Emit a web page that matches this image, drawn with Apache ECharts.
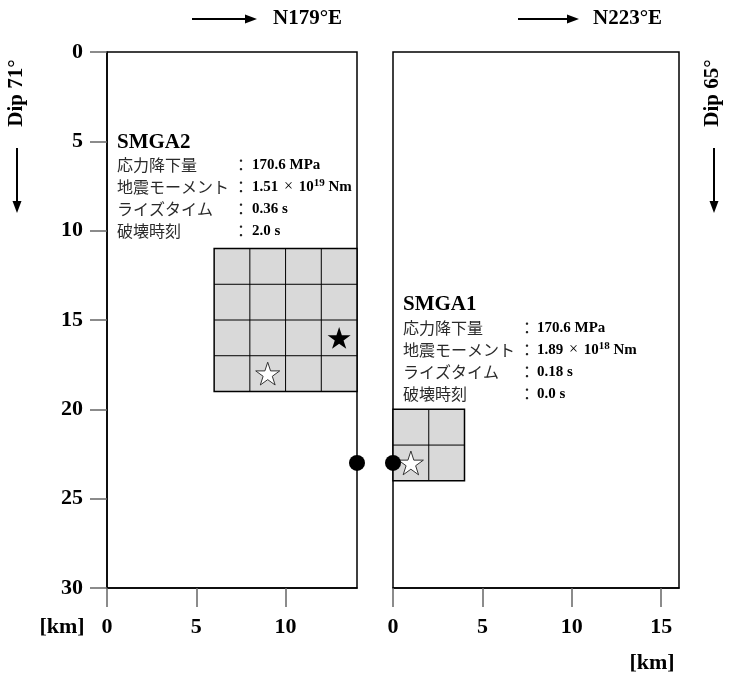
<!DOCTYPE html>
<html>
<head>
<meta charset="utf-8">
<script src="https://cdn.jsdelivr.net/npm/echarts@6/dist/echarts.min.js"></script>
<style>html,body{margin:0;padding:0;background:#fff;}#c{width:730px;height:680px;}</style>
</head>
<body>
<div id="c"></div>
<script>
// ---- data ----
const depthTicks = [0, 5, 10, 15, 20, 25, 30];
const leftStrikeTicks = [0, 5, 10];
const rightStrikeTicks = [0, 5, 10, 15];
const leftStrikeMax = 14;
const rightStrikeMax = 16;
const depthMax = 30;
// [xStart, yStart, xEnd, yEnd, columns, rows]
const smga2Area = [[6, 11, 14, 19, 4, 4]];
const smga1Area = [[0, 20, 4, 24, 2, 2]];
const smga2BlackStar = [[13, 16]];
const smga2WhiteStar = [[9, 18]];
const smga1WhiteStar = [[1, 23]];
const hingeLeft = [[14, 23]];
const hingeRight = [[0, 23]];
const paramLabels = ['応力降下量', '地震モーメント', 'ライズタイム', '破壊時刻'];
const smga2Values = ['{v|170.6 MPa}', '{v|1.51 }{x|×}{v| 10}{s|19}{v| Nm}', '{v|0.36 s}', '{v|2.0 s}'];
const smga1Values = ['{v|170.6 MPa}', '{v|1.89 }{x|×}{v| 10}{s|18}{v| Nm}', '{v|0.18 s}', '{v|0.0 s}'];

const SERIF = '"Liberation Serif", "DejaVu Serif", serif';
const JP = '"Noto Sans CJK JP", sans-serif';
const STAR = 'path://M50,0 L61.23,34.55 L97.55,34.55 L68.16,55.9 L79.39,90.45 L50,69.1 L20.61,90.45 L31.84,55.9 L2.45,34.55 L38.77,34.55 Z';

const chart = echarts.init(document.getElementById('c'), null, {renderer: 'canvas'});

function cellRender(params, api) {
  const x0 = api.value(0), y0 = api.value(1), x1 = api.value(2), y1 = api.value(3);
  const nx = api.value(4), ny = api.value(5);
  const p0 = api.coord([x0, y0]);
  const p1 = api.coord([x1, y1]);
  const left = Math.min(p0[0], p1[0]), right = Math.max(p0[0], p1[0]);
  const top = Math.min(p0[1], p1[1]), bottom = Math.max(p0[1], p1[1]);
  const children = [{
    type: 'rect',
    shape: {x: left, y: top, width: right - left, height: bottom - top},
    style: {fill: '#d9d9d9', stroke: '#000', lineWidth: 1.5}
  }];
  for (let i = 1; i < nx; i++) {
    const xx = left + (right - left) * i / nx;
    children.push({type: 'line', shape: {x1: xx, y1: top, x2: xx, y2: bottom}, style: {stroke: '#000', lineWidth: 1}});
  }
  for (let j = 1; j < ny; j++) {
    const yy = top + (bottom - top) * j / ny;
    children.push({type: 'line', shape: {x1: left, y1: yy, x2: right, y2: yy}, style: {stroke: '#000', lineWidth: 1}});
  }
  return {type: 'group', children: children};
}

const tickFont = {fontFamily: SERIF, fontWeight: 'bold', fontSize: 22, color: '#000'};

function xAxisCfg(gi, max, ticks) {
  return {
    gridIndex: gi, type: 'value', min: 0, max: max, position: 'bottom',
    splitLine: {show: false},
    axisLine: {show: true, onZero: false, lineStyle: {color: '#000', width: 1.5}},
    axisTick: {show: true, inside: false, length: 19, customValues: ticks, lineStyle: {color: '#666', width: 1.5}},
    axisLabel: Object.assign({customValues: ticks, margin: 28}, tickFont)
  };
}

const graphics = [];
function arrowRight(x1, x2, y) {
  graphics.push({type: 'line', shape: {x1: x1, y1: y, x2: x2 - 8, y2: y}, style: {stroke: '#000', lineWidth: 2}});
  graphics.push({type: 'polygon', shape: {points: [[x2 - 12, y - 4.5], [x2, y], [x2 - 12, y + 4.5]]}, style: {fill: '#000'}});
}
function arrowDown(x, y1, y2) {
  graphics.push({type: 'line', shape: {x1: x, y1: y1, x2: x, y2: y2 - 8}, style: {stroke: '#000', lineWidth: 2}});
  graphics.push({type: 'polygon', shape: {points: [[x - 4.5, y2 - 12], [x, y2], [x + 4.5, y2 - 12]]}, style: {fill: '#000'}});
}
function serifText(text, x, y, align, size, rot) {
  graphics.push({type: 'text', x: x, y: y, rotation: rot || 0,
    style: {text: text, x: 0, y: 0, align: align, verticalAlign: 'middle', fill: '#000',
      font: 'bold ' + size + 'px ' + SERIF}});
}

arrowRight(192, 257, 19);
serifText('N179°E', 273, 19, 'left', 21);
arrowRight(518, 579, 19);
serifText('N223°E', 593, 19, 'left', 21);
serifText('Dip 71°', 17, 93, 'center', 21, Math.PI / 2);
arrowDown(17, 148, 213);
serifText('Dip 65°', 713, 93, 'center', 21, Math.PI / 2);
arrowDown(714, 148, 213);
serifText('[km]', 62, 627, 'center', 22);
serifText('[km]', 652, 663, 'center', 22);

const richVals = {
  v: {fontFamily: SERIF, fontWeight: 'bold', fontSize: 15, color: '#000', lineHeight: 18},
  x: {fontFamily: SERIF, fontSize: 16, color: '#333', lineHeight: 18, padding: [0, 2, 0, 2]},
  s: {fontFamily: SERIF, fontWeight: 'bold', fontSize: 11, color: '#000', lineHeight: 18, verticalAlign: 'top'}
};

function block(title, tx, ty, lx, ys, colonX, valX, values) {
  serifText(title, tx, ty, 'left', 21);
  for (let i = 0; i < paramLabels.length; i++) {
    graphics.push({type: 'text', x: lx, y: ys[i],
      style: {text: paramLabels[i], x: 0, y: 0, align: 'left', verticalAlign: 'middle', fill: '#2a2a2a',
        font: '16px ' + JP}});
    graphics.push({type: 'text', x: colonX, y: ys[i],
      style: {text: '：', x: 0, y: 0, align: 'center', verticalAlign: 'middle', fill: '#222',
        font: '16px ' + JP}});
    graphics.push({type: 'text', x: valX, y: ys[i],
      style: {text: values[i], x: 0, y: 0, align: 'left', verticalAlign: 'middle', rich: richVals}});
  }
}
block('SMGA2', 117, 143, 117, [165, 187, 209, 231], 241, 252, smga2Values);
block('SMGA1', 403, 305, 403, [328, 350, 372, 394], 527, 537, smga1Values);

const option = {
  backgroundColor: '#fff',
  animation: false,
  grid: [
    {left: 107, top: 52, width: 250, height: 536, show: true, borderColor: '#000', borderWidth: 1.5, backgroundColor: 'transparent'},
    {left: 393, top: 52, width: 286, height: 536, show: true, borderColor: '#000', borderWidth: 1.5, backgroundColor: 'transparent'}
  ],
  xAxis: [xAxisCfg(0, leftStrikeMax, leftStrikeTicks), xAxisCfg(1, rightStrikeMax, rightStrikeTicks)],
  yAxis: [
    {gridIndex: 0, type: 'value', inverse: true, min: 0, max: depthMax, interval: 5,
      splitLine: {show: false},
      axisLine: {show: true, lineStyle: {color: '#000', width: 1.5}},
      axisTick: {show: true, inside: false, length: 17, customValues: depthTicks, lineStyle: {color: '#666', width: 1.5}},
      axisLabel: Object.assign({customValues: depthTicks, margin: 24}, tickFont)},
    {gridIndex: 1, type: 'value', inverse: true, min: 0, max: depthMax, interval: 5, show: false}
  ],
  series: [
    {type: 'custom', xAxisIndex: 0, yAxisIndex: 0, renderItem: cellRender, data: smga2Area, clip: false, z: 2},
    {type: 'custom', xAxisIndex: 1, yAxisIndex: 1, renderItem: cellRender, data: smga1Area, clip: false, z: 2},
    {type: 'scatter', xAxisIndex: 0, yAxisIndex: 0, data: smga2BlackStar, symbol: STAR, symbolSize: 23, symbolKeepAspect: true,
      itemStyle: {color: '#000', opacity: 1}, z: 5, clip: false},
    {type: 'scatter', xAxisIndex: 0, yAxisIndex: 0, data: smga2WhiteStar, symbol: STAR, symbolSize: 24, symbolKeepAspect: true,
      itemStyle: {color: '#fff', borderColor: '#333', borderWidth: 1, opacity: 1}, z: 5, clip: false},
    {type: 'scatter', xAxisIndex: 1, yAxisIndex: 1, data: smga1WhiteStar, symbol: STAR, symbolSize: 25, symbolKeepAspect: true,
      itemStyle: {color: '#fff', borderColor: '#333', borderWidth: 1, opacity: 1}, z: 5, clip: false},
    {type: 'scatter', xAxisIndex: 0, yAxisIndex: 0, data: hingeLeft, symbol: 'circle', symbolSize: 16,
      itemStyle: {color: '#000', opacity: 1}, z: 6, clip: false},
    {type: 'scatter', xAxisIndex: 1, yAxisIndex: 1, data: hingeRight, symbol: 'circle', symbolSize: 16,
      itemStyle: {color: '#000', opacity: 1}, z: 6, clip: false}
  ],
  graphic: {elements: graphics}
};
chart.setOption(option);
</script>
</body>
</html>
